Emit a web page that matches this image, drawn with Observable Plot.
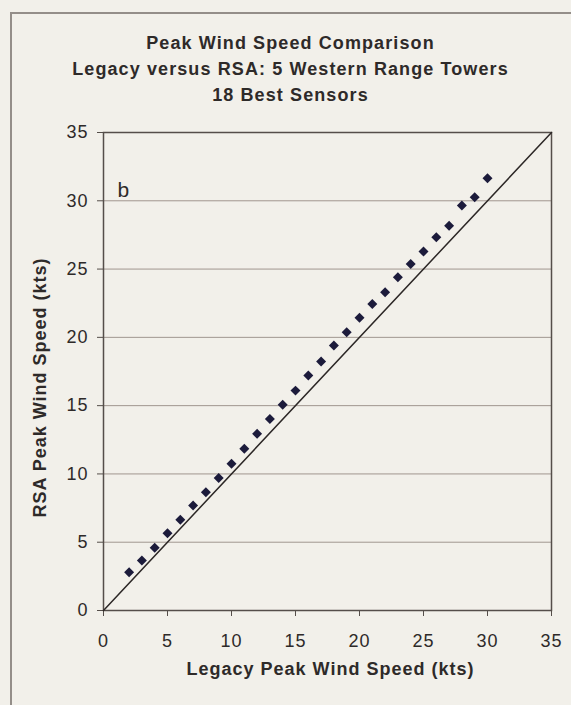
<!DOCTYPE html>
<html>
<head>
<meta charset="utf-8">
<script src="https://cdn.jsdelivr.net/npm/d3@7"></script>
<script src="https://cdn.jsdelivr.net/npm/@observablehq/plot@0.6"></script>
<style>
  html, body { margin: 0; padding: 0; background: #f2f0ea; }
  #wrap { position: relative; width: 571px; height: 705px; overflow: hidden; background: #f2f0ea;
          font-family: "Liberation Sans", Arial, sans-serif; color: #2e2a29; }
  #border { position: absolute; left: 10px; top: 12px; width: 700px; height: 800px;
            border-left: 2px solid #948e89; border-top: 2px solid #948e89; pointer-events: none; }
  #title { position: relative; box-sizing: border-box; height: 118px; padding-top: 30px; width: 581px;
           text-align: center; font-weight: bold; font-size: 18px; line-height: 26px; letter-spacing: 1.1px; }
  #chart svg { display: block; }
</style>
</head>
<body>
<div id="wrap">
  <div id="border"></div>
  <div id="title">
    <div>Peak Wind Speed Comparison</div>
    <div>Legacy versus RSA: 5 Western Range Towers</div>
    <div>18 Best Sensors</div>
  </div>
  <div id="chart"></div>
</div>
<script>
// Data
const legacy = [2, 3, 4, 5, 6, 7, 8, 9, 10, 11, 12, 13, 14, 15, 16, 17, 18, 19, 20, 21, 22, 23, 24, 25, 26, 27, 28, 29, 30];
const rsa = [2.80, 3.66, 4.59, 5.66, 6.64, 7.69, 8.66, 9.71, 10.74, 11.84, 12.94, 14.03, 15.06, 16.10, 17.20, 18.23,
             19.40, 20.37, 21.43, 22.45, 23.30, 24.40, 25.38, 26.28, 27.33, 28.18, 29.65, 30.26, 31.65];
const xTicks = [0, 5, 10, 15, 20, 25, 30, 35];
const yTicks = [0, 5, 10, 15, 20, 25, 30, 35];
const gridValues = [5, 10, 15, 20, 25, 30];
const oneToOne = [0, 35];
const panelLabel = ["b"];
const xLabel = ["Legacy Peak Wind Speed (kts)"];
const yLabel = ["RSA Peak Wind Speed (kts)"];

const points = legacy.map((x, i) => ({legacy: x, rsa: rsa[i]}));
const linePts = oneToOne.map(v => ({x: v, y: v}));

const axisColor = "#554e4a";
const textColor = "#2e2a29";

const chart = Plot.plot({
  width: 571,
  height: 587,
  marginTop: 14,
  marginRight: 20,
  marginBottom: 95,
  marginLeft: 103,
  style: {
    background: "transparent",
    fontFamily: "'Liberation Sans', Arial, sans-serif",
    fontSize: "18px",
    color: textColor,
    letterSpacing: "1px",
    overflow: "visible"
  },
  x: {domain: [0, 35]},
  y: {domain: [0, 35]},
  marks: [
    Plot.ruleY(gridValues, {stroke: "#a0968f", strokeWidth: 1}),
    Plot.frame({stroke: axisColor, strokeWidth: 1.5}),
    Plot.axisX({ticks: xTicks, tickSize: 6, tickPadding: 18, label: null, stroke: axisColor, fill: textColor, fontSize: 18}),
    Plot.axisY({ticks: yTicks, tickSize: 6, tickPadding: 9, label: null, stroke: axisColor, fill: textColor, fontSize: 18}),
    Plot.line(linePts, {x: "x", y: "y", stroke: "#2c2726", strokeWidth: 1.5}),
    Plot.dot(points, {x: "legacy", y: "rsa", symbol: "diamond2", r: 4.5, fill: "#1c1b3b", stroke: "none"}),
    Plot.text(panelLabel, {frameAnchor: "top-left", dx: 14, dy: 50, textAnchor: "start", lineAnchor: "top",
                           fontSize: 21, fill: textColor}),
    Plot.text(xLabel, {frameAnchor: "bottom", dx: 3, dy: 59, textAnchor: "middle", lineAnchor: "middle",
                       fontWeight: "bold", fontSize: 18, fill: textColor}),
    Plot.text(yLabel, {frameAnchor: "left", rotate: -90, dx: -63, dy: 16, textAnchor: "middle", lineAnchor: "middle",
                       fontWeight: "bold", fontSize: 18, fill: textColor})
  ]
});
document.getElementById("chart").appendChild(chart);
</script>
</body>
</html>
